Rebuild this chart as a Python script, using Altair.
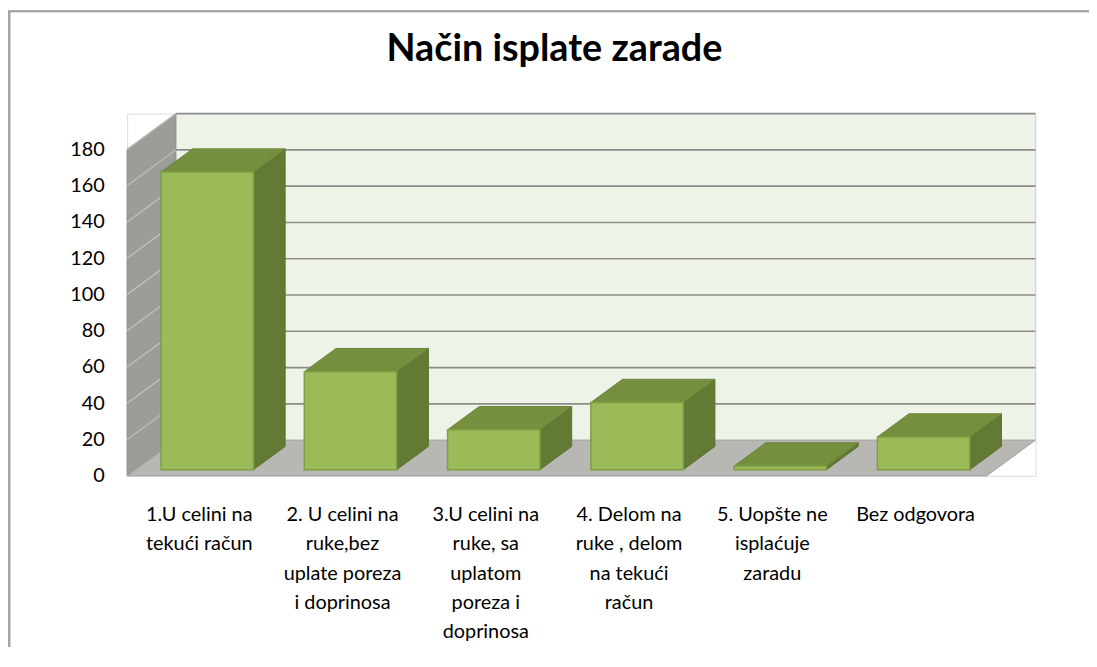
import altair as alt
import pandas as pd

# ---------------- data ----------------
title_text = "Način isplate zarade"
categories = [
    ["1.U celini na", "tekući račun"],
    ["2. U celini na", "ruke,bez", "uplate poreza", "i doprinosa"],
    ["3.U celini na", "ruke, sa", "uplatom", "poreza i", "doprinosa"],
    ["4. Delom na", "ruke , delom", "na tekući", "račun"],
    ["5. Uopšte ne", "isplaćuje", "zaradu"],
    ["Bez odgovora"],
]
values = [164, 54, 22, 37, 2, 18]
y_ticks = [0, 20, 40, 60, 80, 100, 120, 140, 160, 180]
y_max = 180

# ---------------- pseudo-3D projection (data units) ----------------
N = len(values)
DX = 0.34      # depth shift along x (category units)
DY = 19.7      # depth shift along y (value units)
F0, F1 = 0.175, 0.825   # bar front / back depth fraction
BW0, BW1 = 0.1775, 0.8225  # bar left / right inside a slot

W, H = 915, 365
xs = alt.Scale(domain=[0, N + DX], nice=False, zero=False)
ys = alt.Scale(domain=[0, y_max + DY], nice=False, zero=False)

FONT = "Lato"

# walls / floor
back_wall = pd.DataFrame([{"x": DX, "x2": N + DX, "y": DY, "y2": y_max + DY}])
back_grid = pd.DataFrame([{"x": DX, "x2": N + DX, "y": v + DY} for v in y_ticks[1:]])
side_wall = pd.DataFrame([
    {"x": 0.0, "lo": 0.0, "hi": float(y_max)},
    {"x": DX, "lo": DY, "hi": y_max + DY},
])
side_grid = pd.DataFrame([{"x": 0.0, "x2": DX, "y": v, "y2": v + DY} for v in y_ticks[1:]])
floor = pd.DataFrame([
    {"y": 0.0, "xa": 0.0, "xb": float(N)},
    {"y": DY, "xa": DX, "xb": N + DX},
])

# bars
front_rows, side_rows, top_rows = [], [], []
for i, v in enumerate(values):
    front_rows.append({"cat": i, "x": i + BW0 + F0 * DX, "x2": i + BW1 + F0 * DX,
                       "y": F0 * DY, "y2": v + F0 * DY})
    for f in (F0, F1):
        side_rows.append({"cat": i, "x": i + BW1 + f * DX, "lo": f * DY, "hi": v + f * DY})
        top_rows.append({"cat": i, "y": v + f * DY, "xa": i + BW0 + f * DX, "xb": i + BW1 + f * DX})
front_df = pd.DataFrame(front_rows)
side_df = pd.DataFrame(side_rows)
top_df = pd.DataFrame(top_rows)

label_js = "[" + ",".join("[" + ",".join("'" + s + "'" for s in c) + "]" for c in categories) + "]"

X = lambda f, **k: alt.X(f, type="quantitative", scale=xs, **k)
Y = lambda f, **k: alt.Y(f, type="quantitative", scale=ys, **k)

axis_y = alt.Axis(values=y_ticks, grid=False, domain=False, ticks=False, title=None,
                  labelFont=FONT, labelFontSize=20, labelColor="#000000", labelPadding=23)
axis_x = alt.Axis(values=[i + 0.5 for i in range(N)], grid=False, domain=False, ticks=False,
                  title=None, labelFont=FONT, labelFontSize=20, labelColor="#000000",
                  labelPadding=29, labelLineHeight=29.5, labelAngle=0, labelAlign="center",
                  labelBaseline="top", labelOverlap=False, labelFlush=False,
                  labelExpr=label_js + "[floor(datum.value)]")

l_back = alt.Chart(back_wall).mark_rect(fill="#eef3e8", stroke="#d4d6d0", strokeWidth=1).encode(
    x=X("x", axis=axis_x), x2="x2", y=Y("y", axis=axis_y), y2="y2")
l_bgrid = alt.Chart(back_grid).mark_rule(color="#8c8c8a", strokeWidth=1.6).encode(
    x=X("x"), x2="x2", y=Y("y"))
l_side = alt.Chart(side_wall).mark_area(fill="#9c9d99", stroke="#8a8b87", strokeWidth=1).encode(
    x=X("x"), y=Y("lo", stack=None), y2="hi")
l_sgrid = alt.Chart(side_grid).mark_rule(color="#c2c3bf", strokeWidth=1.2).encode(
    x=X("x"), x2="x2", y=Y("y"), y2="y2")
l_floor = alt.Chart(floor).mark_area(orient="horizontal", fill="#b7b8b3", stroke="#a3a49f",
                                     strokeWidth=1).encode(
    y=Y("y", stack=None), x=X("xa", stack=None), x2="xb")

l_bside = alt.Chart(side_df).mark_area(fill="#637a34", stroke="#5c7230", strokeWidth=1).encode(
    x=X("x"), y=Y("lo", stack=None), y2="hi", detail="cat:N")
l_btop = alt.Chart(top_df).mark_area(orient="horizontal", fill="#768f3f", stroke="#6c853a",
                                     strokeWidth=1).encode(
    y=Y("y", stack=None), x=X("xa", stack=None), x2="xb", detail="cat:N")
l_bfront = alt.Chart(front_df).mark_rect(fill="#9bbb59", stroke="#7f9e42", strokeWidth=1.5).encode(
    x=X("x"), x2="x2", y=Y("y"), y2="y2")

# title and outer frame (top and left edges of the picture)
frame_df = pd.DataFrame([{"t": title_text}])
l_title = alt.Chart(frame_df).mark_text(font=FONT, fontSize=38, fontWeight="bold", color="#000000",
                                        align="center", baseline="alphabetic").encode(
    text="t:N", x=alt.value(W / 2 - 27), y=alt.value(-53))
l_frame_top = alt.Chart(frame_df).mark_rule(color="#9a9a9a", strokeWidth=2).encode(
    x=alt.value(-120), x2=alt.value(W + 60), y=alt.value(-103))
l_frame_left = alt.Chart(frame_df).mark_rule(color="#a5a5a5", strokeWidth=3).encode(
    x=alt.value(-119), y=alt.value(-103), y2=alt.value(H + 200))

chart = alt.layer(
    l_back, l_bgrid, l_side, l_sgrid, l_floor, l_bside, l_btop, l_bfront,
    l_title, l_frame_top, l_frame_left,
).properties(
    width=W, height=H,
    autosize=alt.AutoSizeParams(type="none"),
    padding={"left": 120, "top": 104, "right": 54, "bottom": 170},
).configure_view(stroke=None).configure(background="#ffffff")

chart.save("out.html", embed_options={"renderer": "svg", "actions": False})
